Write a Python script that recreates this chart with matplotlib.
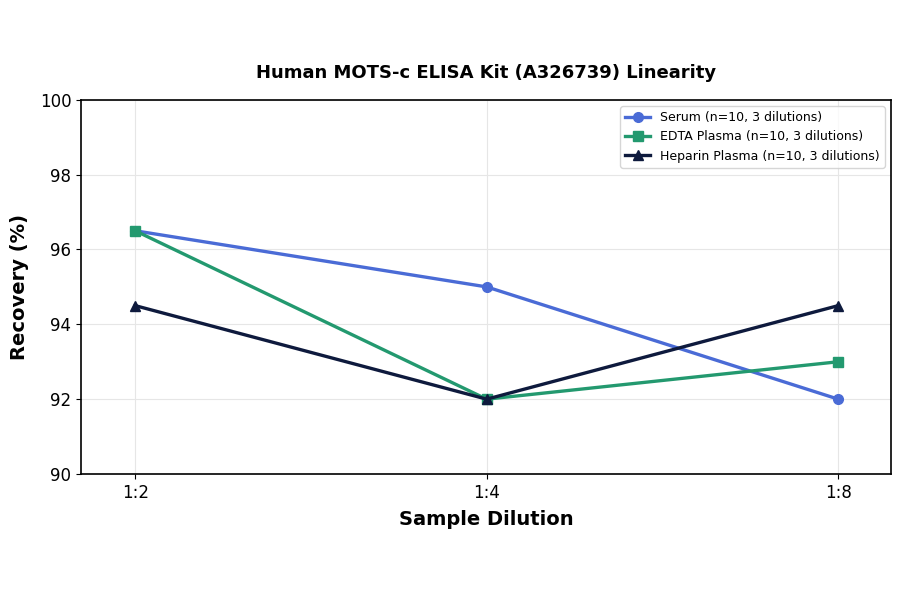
import matplotlib
matplotlib.use("Agg")
import matplotlib.pyplot as plt

# data
dilutions = ["1:2", "1:4", "1:8"]
serum = [96.5, 95.0, 92.0]
edta_plasma = [96.5, 92.0, 93.0]
heparin_plasma = [94.5, 92.0, 94.5]

fig = plt.figure(figsize=(9, 5.94), dpi=100)
ax = fig.add_axes([0.09, 0.202, 0.9, 0.63])

x = range(len(dilutions))
ax.plot(x, serum, color="#4a6bd6", marker="o", markersize=7, linewidth=2.4,
        label="Serum (n=10, 3 dilutions)")
ax.plot(x, edta_plasma, color="#23996f", marker="s", markersize=7, linewidth=2.4,
        label="EDTA Plasma (n=10, 3 dilutions)")
ax.plot(x, heparin_plasma, color="#0e1a3d", marker="^", markersize=7, linewidth=2.4,
        label="Heparin Plasma (n=10, 3 dilutions)")

ax.set_xticks(list(x))
ax.set_xticklabels(dilutions)
ax.set_xlim(-0.154, 2.15)
ax.set_ylim(90, 100)
ax.set_yticks([90, 92, 94, 96, 98, 100])
ax.tick_params(labelsize=12)
ax.grid(True, color="#e6e6e6", linewidth=0.8)
ax.set_axisbelow(True)
for sp in ax.spines.values():
    sp.set_linewidth(1.2)

ax.set_xlabel("Sample Dilution", fontsize=14, fontweight="bold", labelpad=6)
ax.set_ylabel("Recovery (%)", fontsize=14, fontweight="bold", labelpad=8)
ax.set_title("Human MOTS-c ELISA Kit (A326739) Linearity", fontsize=13,
             fontweight="bold", pad=16)
ax.legend(loc="upper right", fontsize=9)

fig.savefig("out.png", dpi=100)
